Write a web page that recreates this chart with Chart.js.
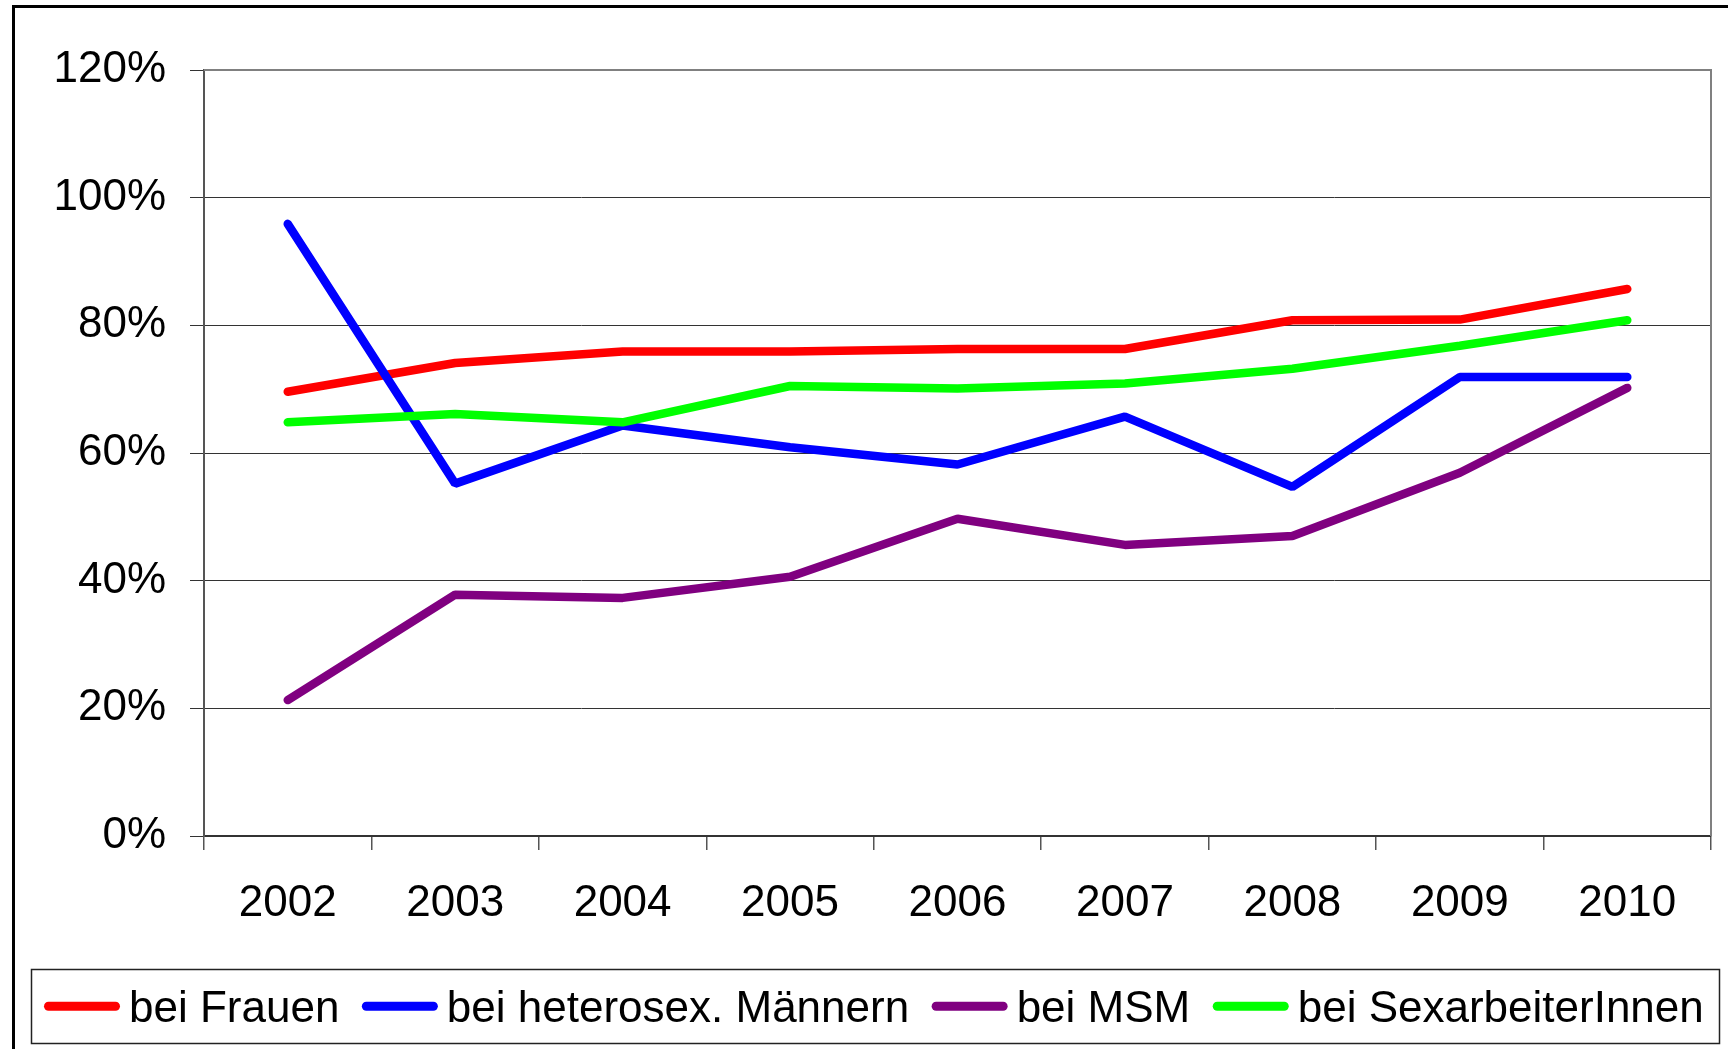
<!DOCTYPE html>
<html><head><meta charset="utf-8">
<script src="https://cdn.jsdelivr.net/npm/chart.js@4/dist/chart.umd.min.js"></script>
<style>html,body{margin:0;padding:0;background:#fff;overflow:hidden}#wrap{width:1728px;height:1049px;position:relative}</style>
</head><body><div id="wrap"><canvas id="c"></canvas></div>
<script>
const years = ['2002','2003','2004','2005','2006','2007','2008','2009','2010'];
const frauen = [69.6, 74.1, 75.9, 75.9, 76.3, 76.3, 80.8, 80.9, 85.7];
const heteroMaenner = [95.9, 55.2, 64.3, 60.9, 58.2, 65.7, 54.7, 71.9, 71.9];
const msm = [21.3, 37.8, 37.3, 40.6, 49.7, 45.6, 47.0, 56.9, 70.2];
const sexarbeiter = [64.8, 66.1, 64.8, 70.5, 70.1, 70.9, 73.2, 76.8, 80.8];
const seriesNames = ['bei Frauen', 'bei heterosex. Männern', 'bei MSM', 'bei SexarbeiterInnen'];
const seriesColors = ['#FF0000', '#0000FF', '#800080', '#00FF00'];
const yMax = 120, yStep = 20;

const FONT = '"Liberation Sans", Arial, sans-serif';
const seriesData = [frauen, heteroMaenner, msm, sexarbeiter];

const framePlugin = {
  id: 'frame',
  beforeDraw(chart) {
    const {ctx, width, height} = chart;
    ctx.save(); ctx.fillStyle = '#fff'; ctx.fillRect(0, 0, width, height); ctx.restore();
  },
  beforeDatasetsDraw(chart) {
    const {ctx, chartArea: a} = chart;
    ctx.save();
    ctx.strokeStyle = '#808080'; ctx.lineWidth = 2;
    ctx.beginPath();
    ctx.moveTo(a.left, a.top); ctx.lineTo(a.right, a.top); ctx.lineTo(a.right, a.bottom);
    ctx.stroke();
    ctx.restore();
  },
  afterDraw(chart) {
    const {ctx} = chart;
    ctx.save();
    // outer border
    ctx.strokeStyle = '#000'; ctx.lineWidth = 3;
    ctx.strokeRect(13.5, 6.5, 1800, 1100);
    // legend box
    const bx = 31, by = 969, bw = 1688, bh = 74;
    ctx.strokeStyle = '#222'; ctx.lineWidth = 1.5;
    ctx.strokeRect(bx + 0.5, by + 0.5, bw, bh);
    ctx.font = '44px ' + FONT;
    ctx.textBaseline = 'alphabetic';
    const lw = 9, pathLen = 67, gapText = 9, gapItem = 22.5;
    const ds = chart.data.datasets;
    let x = 44;
    const cy = 1006.3, base = 1021.7;
    ds.forEach((d) => {
      ctx.strokeStyle = d.borderColor; ctx.lineWidth = lw; ctx.lineCap = 'round';
      ctx.beginPath(); ctx.moveTo(x + lw / 2, cy); ctx.lineTo(x + lw / 2 + pathLen, cy); ctx.stroke();
      x += pathLen + lw + gapText;
      ctx.fillStyle = '#000';
      ctx.fillText(d.label, x, base);
      x += ctx.measureText(d.label).width + gapItem;
    });
    ctx.restore();
  }
};

new Chart(document.getElementById('c'), {
  type: 'line',
  data: {
    labels: years,
    datasets: seriesData.map((d, i) => ({
      label: seriesNames[i],
      data: d,
      borderColor: seriesColors[i],
      backgroundColor: seriesColors[i],
      borderWidth: 8.5,
      borderCapStyle: 'round',
      borderJoinStyle: 'bevel',
      pointRadius: 0,
      tension: 0,
      order: seriesData.length - i,
      clip: false
    }))
  },
  options: {
    responsive: true,
    maintainAspectRatio: false,
    animation: false,
    layout: { padding: { left: 0, top: 70, right: 17, bottom: 0 } },
    plugins: { legend: { display: false }, tooltip: { enabled: false } },
    scales: {
      x: {
        offset: true,
        afterFit(s) { s.height = 213; },
        grid: { offset: true, drawOnChartArea: false, drawTicks: true, tickLength: 14, color: '#555', lineWidth: 1.5 },
        border: { display: true, color: '#333', width: 2 },
        ticks: { color: '#000', font: { family: FONT, size: 44 }, padding: 27, maxRotation: 0, autoSkip: false }
      },
      y: {
        min: 0, max: yMax,
        afterFit(s) { s.width = 204; },
        grid: { color: '#333', lineWidth: 1, tickLength: 14, drawTicks: true },
        border: { display: true, color: '#555', width: 2 },
        ticks: { stepSize: yStep, color: '#000', font: { family: FONT, size: 44 }, padding: 24, callback: v => v + '%' }
      }
    }
  },
  plugins: [framePlugin]
});
</script></body></html>
